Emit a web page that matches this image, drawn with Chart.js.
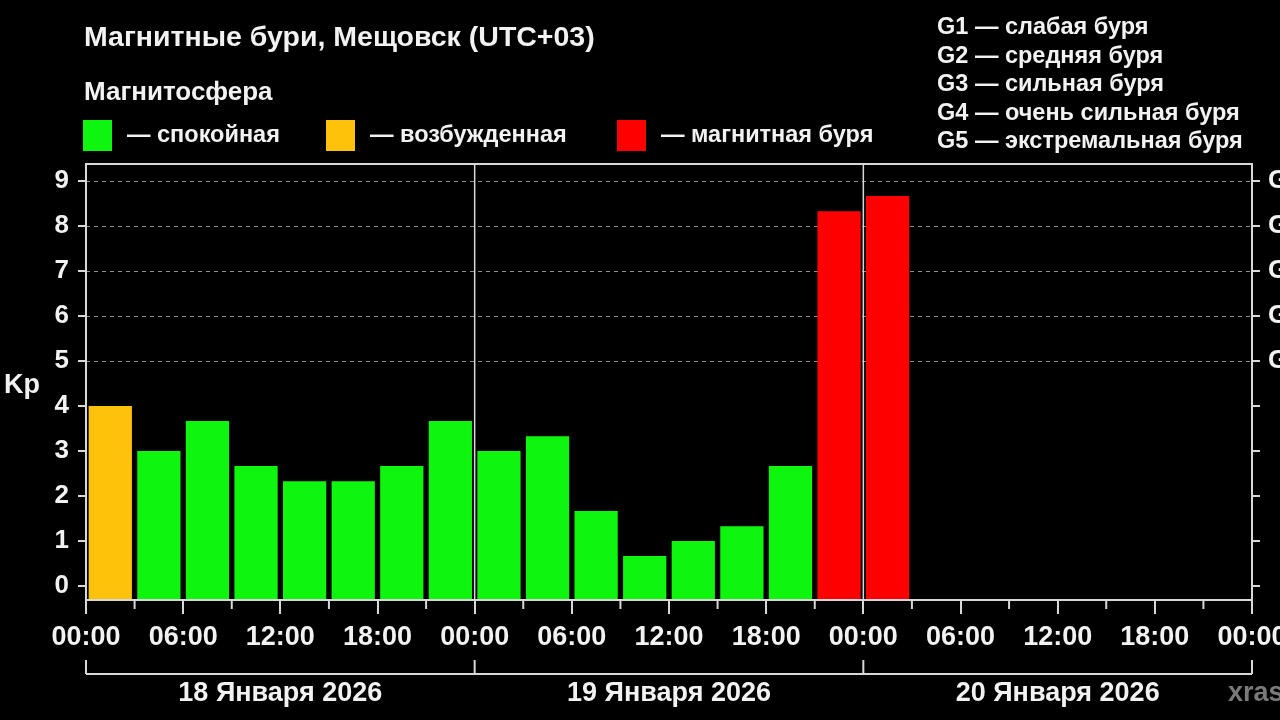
<!DOCTYPE html>
<html lang="ru">
<head>
<meta charset="utf-8">
<title>Магнитные бури, Мещовск</title>
<script src="https://cdn.jsdelivr.net/npm/chart.js@4.4.1/dist/chart.umd.min.js"></script>
<style>
  html, body { margin: 0; padding: 0; background: #000; }
  body { width: 1280px; height: 720px; position: relative; overflow: hidden;
         font-family: "Liberation Sans", Arial, sans-serif; font-weight: bold; color: #f2f2f2; }
  #wrap { position: absolute; left: 0; top: 0; width: 1280px; height: 720px; }
  .t { position: absolute; white-space: nowrap; line-height: 1; }
  .sq { position: absolute; width: 29px; height: 31px; }
</style>
</head>
<body>
<div id="wrap"><canvas id="kpChart"></canvas></div>

<div class="t" style="left:84px; top:22px; font-size:28.5px">Магнитные бури, Мещовск (UTC+03)</div>
<div class="t" style="left:84px; top:78px; font-size:26px">Магнитосфера</div>
<div id="legend"></div>
<div id="gLegend"></div>

<script>
// Данные графика
const days = ['18 Января 2026', '19 Января 2026', '20 Января 2026'];
const slotHours = ['00:00', '03:00', '06:00', '09:00', '12:00', '15:00', '18:00', '21:00'];
const hourLabels = ['00:00', '06:00', '12:00', '18:00'];
const kpValues = [
    4, 3, 3.67, 2.67, 2.33, 2.33, 2.67, 3.67,
    3, 3.33, 1.67, 0.67, 1, 1.33, 2.67, 8.33,
    8.67, null, null, null, null, null, null, null
];
const stormLevels = ['G1', 'G2', 'G3', 'G4', 'G5'];
const stormNames = ['слабая буря', 'средняя буря', 'сильная буря', 'очень сильная буря', 'экстремальная буря'];
const stateNames = ['спокойная', 'возбужденная', 'магнитная буря'];
const stateColors = ['#0ef50e', '#ffc20a', '#ff0000'];

const yMin = -0.31;
const yMax = 9.38;
const font = '"Liberation Sans", Arial, sans-serif';

const categories = [];
days.forEach(d => slotHours.forEach(h => categories.push(d + ' ' + h)));

// Легенда сверху
const legendBox = document.getElementById('legend');
const legendX = [83, 326, 617];
stateNames.forEach((name, i) => {
    legendBox.insertAdjacentHTML('beforeend',
        `<div class="sq" style="left:${legendX[i]}px; top:120px; background:${stateColors[i]}"></div>` +
        `<div class="t" style="left:${legendX[i] + 44}px; top:123px; font-size:23.5px">— ${name}</div>`);
});
const gBox = document.getElementById('gLegend');
stormLevels.forEach((g, i) => {
    gBox.insertAdjacentHTML('beforeend',
        `<div class="t" style="left:937px; top:${15 + i * 28.5}px; font-size:23.5px">${g} — ${stormNames[i]}</div>`);
});

const colorFor = v => v >= 5 ? stateColors[2] : (v >= 4 ? stateColors[1] : stateColors[0]);

const line = (ctx, x1, y1, x2, y2) => {
    ctx.beginPath(); ctx.moveTo(x1, y1); ctx.lineTo(x2, y2); ctx.stroke();
};

const decorPlugin = {
    id: 'decor',
    beforeDatasetsDraw(chart) {
        const { ctx, chartArea: a, scales } = chart;
        ctx.save();
        // пунктирная сетка от Kp 5
        ctx.strokeStyle = '#8c8c8c';
        ctx.lineWidth = 1;
        ctx.setLineDash([4, 4]);
        for (let v = 5; v <= 9; v++) {
            const y = Math.round(scales.y.getPixelForValue(v)) + 0.5;
            line(ctx, a.left, y, a.right, y);
        }
        // границы суток
        ctx.setLineDash([]);
        ctx.strokeStyle = '#d8d8d8';
        ctx.lineWidth = 1.5;
        [24, 48].forEach(h => {
            const x = scales.xt.getPixelForValue(h);
            line(ctx, x, a.top, x, a.bottom);
        });
        ctx.restore();
    },
    afterDraw(chart) {
        const { ctx, chartArea: a, scales } = chart;
        const xt = scales.xt;
        ctx.save();
        ctx.strokeStyle = '#d8d8d8';
        ctx.lineWidth = 2;
        ctx.strokeRect(a.left, a.top, a.right - a.left, a.bottom - a.top);

        // мелкие деления по 3 часа
        for (let h = 3; h < 72; h += 6) {
            const x = xt.getPixelForValue(h);
            line(ctx, x, a.bottom, x, a.bottom + 9);
        }

        // скобка с датами
        const by = 674;
        line(ctx, xt.getPixelForValue(0), by, xt.getPixelForValue(72), by);
        [0, 24, 48, 72].forEach(h => {
            const x = xt.getPixelForValue(h);
            line(ctx, x, by - 14, x, by);
        });
        ctx.fillStyle = '#f2f2f2';
        ctx.font = 'bold 27px ' + font;
        ctx.textAlign = 'center';
        ctx.textBaseline = 'middle';
        days.forEach((d, i) => ctx.fillText(d, xt.getPixelForValue(12 + i * 24), 694));

        ctx.fillStyle = '#7a7a7a';
        ctx.textAlign = 'left';
        ctx.fillText('xras', 1228, 694);

        ctx.fillStyle = '#f2f2f2';
        ctx.fillText('Kp', 4, 386);
        ctx.restore();
    }
};

const tickFont = { family: font, weight: 'bold', size: 26 };

new Chart(document.getElementById('kpChart'), {
    type: 'bar',
    data: {
        labels: categories,
        datasets: [{
            data: kpValues,
            base: yMin,
            backgroundColor: c => colorFor(c.raw),
            borderWidth: 0,
            barPercentage: 0.89,
            categoryPercentage: 1
        }]
    },
    options: {
        responsive: true,
        maintainAspectRatio: false,
        animation: false,
        layout: { padding: { top: 164, left: 0, right: 0, bottom: 0 } },
        plugins: { legend: { display: false }, tooltip: { enabled: false } },
        scales: {
            x: { display: false },
            xt: {
                type: 'linear', position: 'bottom', min: 0, max: 72, offset: false,
                afterFit: s => { s.height = 120; s.paddingLeft = 0; s.paddingRight = 0; },
                grid: { offset: false, drawOnChartArea: false, color: '#d8d8d8', lineWidth: 2, tickLength: 14 },
                border: { display: false },
                ticks: {
                    stepSize: 6, autoSkip: false, maxRotation: 0, padding: 7,
                    color: '#f2f2f2', font: { family: font, weight: 'bold', size: 27 },
                    callback: v => hourLabels[(v / 6) % 4]
                }
            },
            y: {
                min: yMin, max: yMax, position: 'left',
                afterFit: s => { s.width = 86; },
                grid: { drawOnChartArea: false, color: '#d8d8d8', lineWidth: 2, tickLength: 8 },
                border: { display: false },
                ticks: { stepSize: 1, includeBounds: false, color: '#f2f2f2', font: tickFont, padding: 9 }
            },
            y2: {
                min: yMin, max: yMax, position: 'right',
                afterFit: s => { s.width = 28; },
                grid: { drawOnChartArea: false, color: '#d8d8d8', lineWidth: 2, tickLength: 8 },
                border: { display: false },
                ticks: {
                    stepSize: 1, includeBounds: false, color: '#f2f2f2', font: tickFont, padding: 8,
                    callback: v => v >= 5 ? stormLevels[v - 5] : ''
                }
            }
        }
    },
    plugins: [decorPlugin]
});
</script>
</body>
</html>
